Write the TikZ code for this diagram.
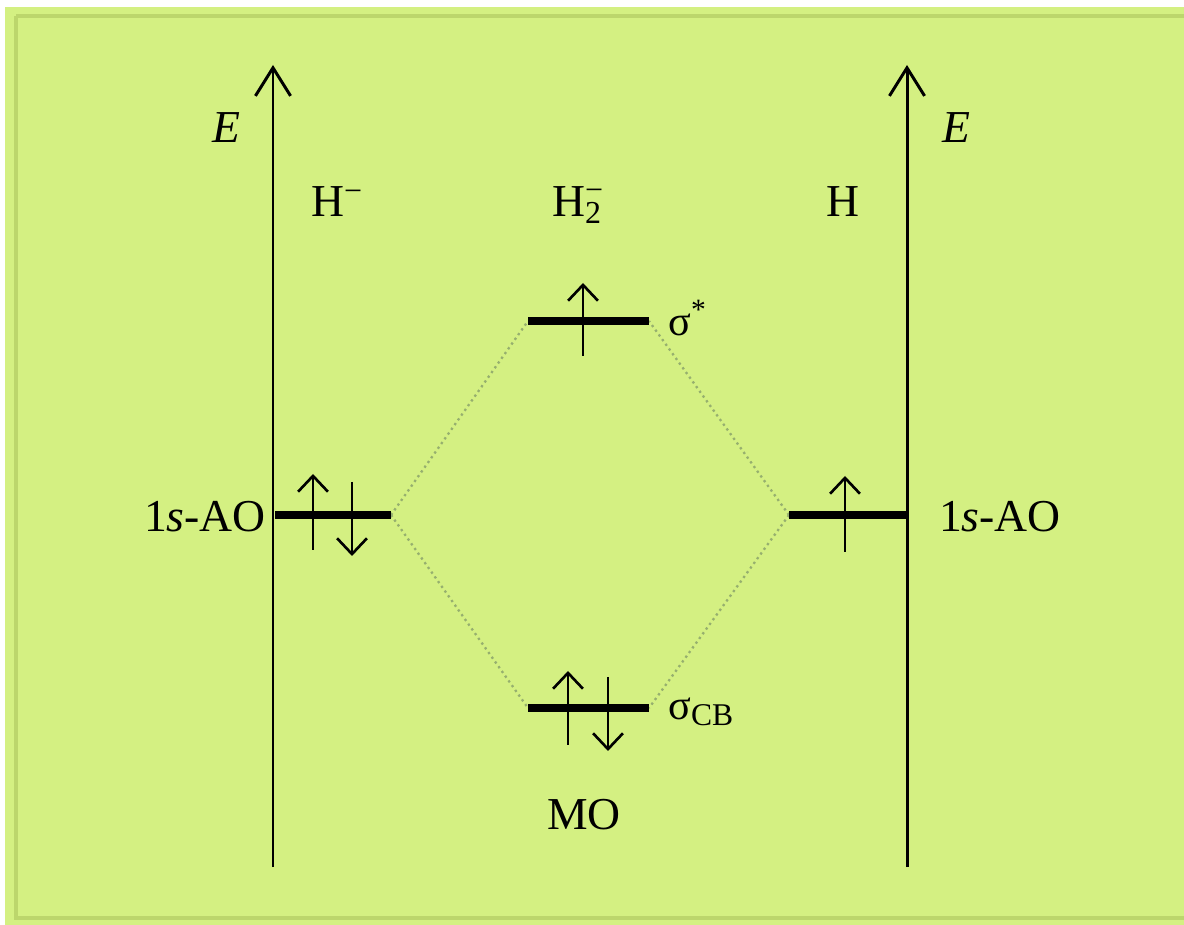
\documentclass[tikz,border=0pt]{standalone}
\usepackage{fontspec}
\setmainfont{Liberation Serif}
\usetikzlibrary{arrows.meta}
\definecolor{bg}{RGB}{212,240,130}
\definecolor{bgedge}{RGB}{188,214,108}
\definecolor{dotc}{RGB}{150,175,110}
\tikzset{
  axis/.style={line width=1.7pt, -{Straight Barb[length=16pt,width=20pt,line width=1.7pt]}},
  level/.style={line width=4pt},
  elec/.style={line width=1.5pt, -{Straight Barb[length=9pt,width=17pt,line width=1.5pt]}},
  corr/.style={dotc, line width=1.3pt, dotted},
  lbl/.style={font=\fontsize{26}{30}\selectfont, inner sep=0pt},
  slbl/.style={font=\fontsize{24}{28}\selectfont, inner sep=0pt}
}
\begin{document}
\begin{tikzpicture}[x=0.02cm,y=-0.02cm]
\useasboundingbox (0,0) rectangle (1184,925);
\fill[white] (0,0) rectangle (1184,925);
\fill[bg] (5,7) rectangle (1184,925);
\draw[bgedge, line width=2.5pt] (16,16) -- (1190,16);
\draw[bgedge, line width=2.5pt] (16,16) -- (16,918) -- (1190,918);
% axes
\coordinate (la0) at (273,867); \coordinate (la1) at (273,65);
\coordinate (ra0) at (907,867); \coordinate (ra1) at (907,65);
\draw[axis] (la0) -- (la1);
\draw[axis] (ra0) -- (ra1);
\node[lbl] (eL) at (226,128) {\textit{E}};
\node[lbl] (eR) at (956,128) {\textit{E}};
\node[lbl] (hm) at (337,202) {H\textsuperscript{−}};
\node[lbl] (h2) at (578,205) {H\rlap{\textsubscript{2}}\textsuperscript{−}};
\node[lbl] (h) at (843,202) {H};
% levels
\coordinate (lL) at (275,515); \coordinate (lR) at (391,515);
\coordinate (rL) at (789,515); \coordinate (rR) at (906,515);
\coordinate (sL) at (528,321); \coordinate (sR) at (649,321);
\coordinate (bL) at (528,708); \coordinate (bR) at (649,708);
\draw[corr] (lR) -- (sL); \draw[corr] (lR) -- (bL);
\draw[corr] (rL) -- (sR); \draw[corr] (rL) -- (bR);
\draw[level] (lL) -- (lR);
\draw[level] (rL) -- (rR);
\draw[level] (sL) -- (sR);
\draw[level] (bL) -- (bR);
% electrons
\coordinate (e1a) at (313,550); \coordinate (e1b) at (313,474);
\coordinate (e2a) at (352,482); \coordinate (e2b) at (352,556);
\coordinate (e3a) at (845,552); \coordinate (e3b) at (845,476);
\coordinate (e4a) at (583,356); \coordinate (e4b) at (583,283);
\coordinate (e5a) at (568,745); \coordinate (e5b) at (568,671);
\coordinate (e6a) at (608,677); \coordinate (e6b) at (608,751);
\draw[elec] (e1a) -- (e1b);
\draw[elec] (e2a) -- (e2b);
\draw[elec] (e3a) -- (e3b);
\draw[elec] (e4a) -- (e4b);
\draw[elec] (e5a) -- (e5b);
\draw[elec] (e6a) -- (e6b);
% labels
\node[lbl] (aoL) at (205,517) {1\textit{s}-AO};
\node[lbl] (aoR) at (1000,517) {1\textit{s}-AO};
\node[slbl, anchor=west] (sst) at (668,318) {σ\textsuperscript{*}};
\node[slbl, anchor=west] (scb) at (668,712) {σ\textsubscript{\fontsize{18}{20}\selectfont CB}};
\node[lbl] (mo) at (584,815) {MO};
\end{tikzpicture}
\end{document}
